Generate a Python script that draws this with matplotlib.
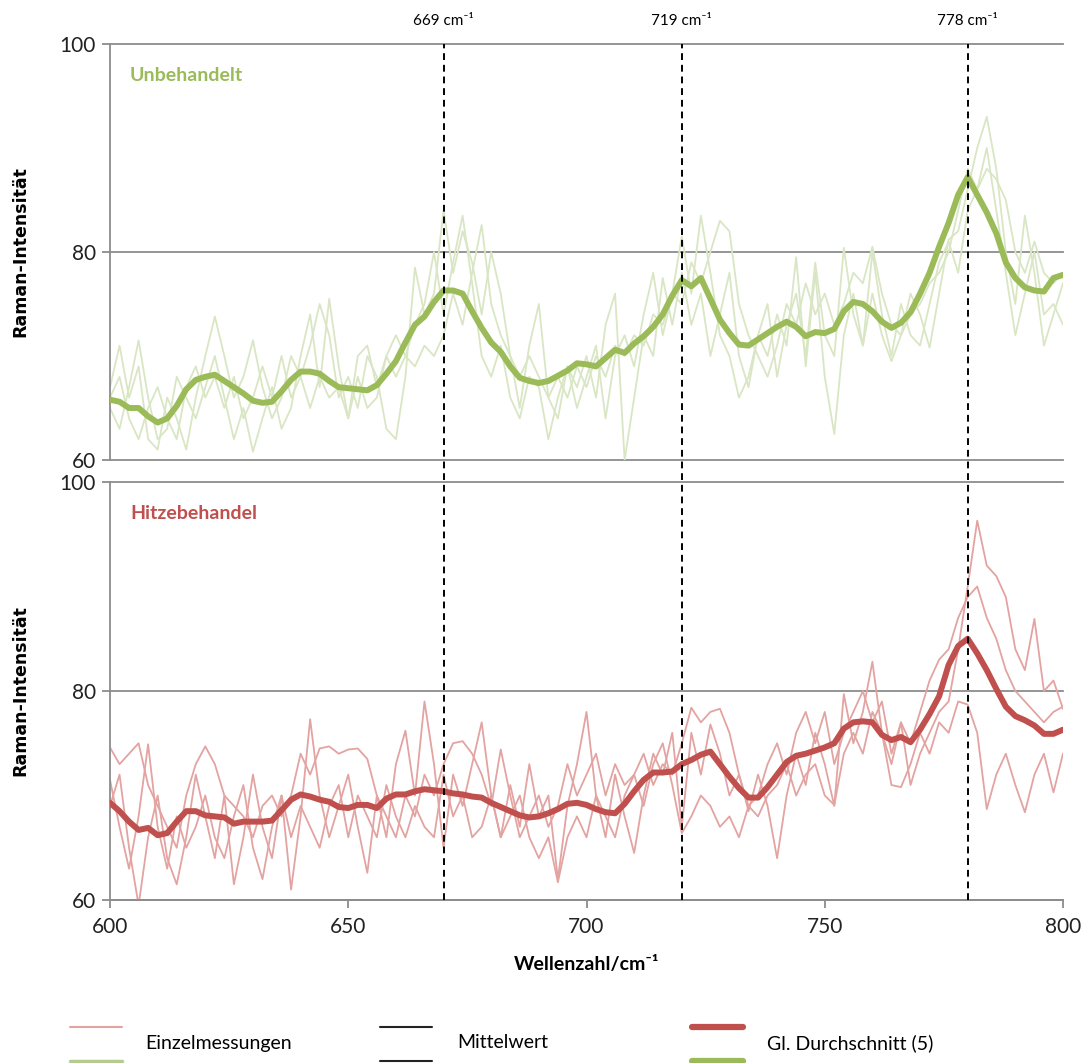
import numpy as np
import matplotlib.pyplot as plt
from matplotlib.lines import Line2D

plt.rcParams['font.family'] = ['Lato', 'DejaVu Sans']

# Wellenzahl-Raster (cm^-1)
wellenzahl = np.arange(600, 801, 2)

# --- Unbehandelt: Einzelmessungen + gleitender Durchschnitt
unbeh_1 = [67, 71, 66, 69, 62, 61, 66, 64, 61, 66,
           70, 73.8, 70, 66, 68, 71.5, 67, 64, 66, 70,
           68, 71, 75, 72, 66, 68, 65, 70, 68, 63,
           62, 68, 78.5, 74, 76, 84, 78, 82, 79, 74,
           80, 76, 70, 65, 71, 75, 66, 64, 69, 67,
           70, 66, 73, 76, 60, 66, 72, 70, 77.5, 73,
           78, 73, 76, 70, 74, 78, 70, 67, 72, 70,
           74, 71, 79.5, 69, 78, 68, 62.5, 72, 76, 71,
           80, 74, 70, 75, 72, 71, 75, 79, 81, 78,
           84, 86, 90, 84, 78, 72, 76, 80, 74, 75,
           73]
unbeh_2 = [65, 63, 67, 71.5, 66, 62, 63, 68, 66, 64,
           67, 70, 66, 62, 65, 60.8, 64, 67, 63, 65,
           70, 74, 67, 75.5, 69, 64, 70, 71, 67, 70,
           72, 70, 73, 75, 80, 74, 79, 83.5, 77, 70,
           68, 71, 66, 64, 68, 67, 62, 66, 69, 65,
           68, 71, 64, 70, 72, 69, 74, 78, 72, 76,
           81.5, 76, 83.5, 78, 72, 70, 66, 68, 72, 75,
           68, 73, 76, 70, 79, 72, 70, 80.4, 74, 71,
           76, 72, 69.5, 72, 76, 74, 70.8, 76, 81.2, 82,
           86, 90, 93, 88, 80, 75, 83.5, 78, 71, 74,
           77]
unbeh_3 = [66, 68, 64, 62, 65, 67, 64, 62, 67, 69,
           66, 68, 65, 68, 64, 66, 69, 66, 70, 66,
           68, 65, 68, 66, 67, 64, 68, 65, 66, 70,
           68, 70, 69, 71, 70, 72, 76, 73, 78, 82.6,
           75, 72, 70, 68, 70, 68, 66, 68, 66, 69,
           67, 70, 68, 71, 70, 72, 71, 74, 73, 76,
           75, 79, 77, 80, 83, 82, 75, 72, 70, 68,
           71, 75, 73, 77, 74, 76, 73, 75, 78, 77,
           80.5, 76, 73, 72, 74, 75, 77, 78, 80, 84,
           88, 86, 88, 87, 85, 80, 78, 81, 78, 77,
           78]
unbeh_gl = [65.8, 65.6, 65.0, 65.0, 64.2, 63.6, 64.0, 65.2, 66.8, 67.7,
            68.0, 68.2, 67.6, 67.0, 66.4, 65.7, 65.5, 65.6, 66.6, 67.7,
            68.5, 68.5, 68.3, 67.6, 67.0, 66.9, 66.8, 66.7, 67.2, 68.3,
            69.5, 71.3, 73.0, 73.8, 75.2, 76.3, 76.3, 76.0, 74.3, 72.7,
            71.3, 70.4, 69.0, 67.9, 67.6, 67.4, 67.6, 68.1, 68.6, 69.3,
            69.2, 69.0, 69.8, 70.6, 70.3, 71.2, 71.9, 72.8, 74.0, 75.8,
            77.3, 76.7, 77.5, 75.5, 73.5, 72.2, 71.1, 71.0, 71.6, 72.2,
            72.8, 73.3, 72.8, 71.9, 72.3, 72.2, 72.6, 74.3, 75.2, 75.0,
            74.3, 73.3, 72.7, 73.2, 74.2, 76.0, 78.0, 80.5, 82.8, 85.5,
            87.2, 85.5, 83.8, 81.8, 79.0, 77.5, 76.6, 76.3, 76.2, 77.5,
            77.8]

# --- Hitzebehandelt
hitze_1 = [69, 72, 65, 59.5, 66, 70, 64, 61.5, 66, 72,
           68, 64, 70, 61.5, 66, 72, 67, 64, 70, 61,
           68, 77.3, 70, 66, 69, 72, 67, 62.6, 70, 66,
           73, 76.2, 70, 79, 73, 65, 72, 69, 73, 77,
           70, 66, 71, 67, 73, 68, 70, 62, 69, 73,
           78, 70, 66, 72, 68, 64.5, 70, 74, 72, 76,
           67, 76, 72, 76.8, 74, 70, 72, 68.5, 72, 69,
           64, 70, 74, 71, 76, 73, 69, 79.7, 75, 78,
           82.8, 76, 73, 77, 71, 74, 76, 78, 79, 84,
           90, 96.3, 92, 91, 89, 84, 82, 86.9, 80, 81,
           78.3]
hitze_2 = [74.6, 73, 74, 75, 71, 69, 67, 65, 70, 73,
           74.7, 73, 70, 69, 68, 66, 69, 70, 68, 70,
           74, 72, 74.5, 74.7, 74, 74.4, 74.5, 73.5, 70, 68,
           66, 70, 68, 72, 70, 73, 75, 75.2, 74, 72,
           69, 74.4, 70, 66, 68, 70, 67, 69, 73, 70,
           72, 74, 70, 73, 71, 72, 74, 71, 73, 72,
           75, 78.4, 77, 78, 78.3, 76, 72, 69, 70, 73,
           75, 72, 76, 78, 75, 78, 73, 76, 78, 80,
           77, 79, 74, 77, 75, 78, 81, 83, 84, 87,
           89, 90, 87, 85, 82, 80, 79, 78, 77, 78,
           78.5]
hitze_3 = [71.5, 67, 63, 68, 74.9, 67, 63, 68, 65, 67,
           70, 66, 64, 68, 71, 65, 62, 67, 70, 66,
           69, 67, 65, 69, 71, 66, 70, 68, 66, 71,
           68, 66, 69, 67, 66, 72, 68, 70, 66, 67,
           70, 66, 68, 70, 66, 64, 66, 61.7, 66, 68,
           66, 70, 68, 66, 70, 72, 69, 73, 75, 71,
           66.4, 68, 70, 69, 67, 68, 66, 69, 68, 70,
           71, 73, 70, 72, 73, 70, 69.1, 74, 76, 74,
           78, 76, 71, 70.8, 73, 76, 74, 77, 76, 79,
           78.7, 76, 68.7, 72, 74, 71, 68.4, 72, 74, 70.3,
           74]
hitze_gl = [69.3, 68.5, 67.5, 66.7, 66.9, 66.2, 66.4, 67.5, 68.5, 68.5,
            68.1, 68.0, 67.9, 67.3, 67.5, 67.5, 67.5, 67.6, 68.6, 69.6,
            70.1, 69.9, 69.6, 69.4, 68.9, 68.8, 69.1, 69.1, 68.8, 69.7,
            70.1, 70.1, 70.4, 70.6, 70.5, 70.4, 70.2, 70.1, 69.9, 69.8,
            69.3, 68.9, 68.5, 68.1, 67.9, 68.0, 68.3, 68.7, 69.2, 69.3,
            69.1, 68.7, 68.4, 68.3, 69.2, 70.4, 71.5, 72.2, 72.2, 72.3,
            73.0, 73.4, 73.9, 74.2, 73.0, 71.8, 70.7, 69.8, 69.8, 70.8,
            72.0, 73.2, 73.8, 74.0, 74.3, 74.6, 75.0, 76.4, 77.0, 77.1,
            77.0, 75.8, 75.3, 75.6, 75.1, 76.3, 77.8, 79.5, 82.5, 84.3,
            85.0, 83.6, 82.0, 80.2, 78.5, 77.6, 77.2, 76.7, 75.9, 75.9,
            76.3]

# Banden
banden_pos = [670, 720, 780]
banden_text = ['669 cm⁻¹', '719 cm⁻¹', '778 cm⁻¹']

gruen, gruen_hell = '#9bbb59', '#d9e6c4'
rot, rot_hell = '#c0504d', '#e3a3a1'
grau = '#8c8c8c'

W, H = 1088, 1063
fig = plt.figure(figsize=(W / 100, H / 100), dpi=100)

left, right = 110 / W, 1063 / W
ax1 = fig.add_axes([left, 1 - 460 / H, right - left, 416 / H])
ax2 = fig.add_axes([left, 1 - 900 / H, right - left, 418 / H])

panels = [
    (ax1, [unbeh_1, unbeh_2, unbeh_3], unbeh_gl, gruen, gruen_hell, 'Unbehandelt'),
    (ax2, [hitze_1, hitze_2, hitze_3], hitze_gl, rot, rot_hell, 'Hitzebehandel'),
]

for ax, einzeln, gl, farbe, farbe_hell, titel in panels:
    for reihe in einzeln:
        ax.plot(wellenzahl, reihe, color=farbe_hell, lw=1.3, zorder=2)
    ax.plot(wellenzahl, gl, color=farbe, lw=4.3, zorder=3,
            solid_capstyle='round', solid_joinstyle='round')
    ax.set_xlim(600, 800)
    ax.set_ylim(60, 100)
    ax.set_yticks([60, 80, 100])
    for y in [60, 80, 100]:
        ax.axhline(y, color=grau, lw=1.3, zorder=1, clip_on=False)
    for s in ['top', 'right', 'bottom']:
        ax.spines[s].set_visible(False)
    ax.spines['left'].set_color(grau)
    ax.spines['left'].set_linewidth(1.3)
    ax.tick_params(axis='y', direction='out', length=6, width=1.3, color=grau,
                   labelsize=15, labelcolor='#222222', pad=4)
    ax.set_ylabel('Raman-Intensität', fontsize=12.5, fontweight='bold',
                  family=['DejaVu Sans'], labelpad=22)
    ax.text(0.021, 0.925, titel, transform=ax.transAxes, color=farbe,
            fontsize=14, fontweight='bold', va='center', ha='left')
    ax.patch.set_alpha(0)

ax1.tick_params(axis='x', bottom=False, labelbottom=False)
ax2.spines['bottom'].set_visible(True)
ax2.spines['bottom'].set_color(grau)
ax2.spines['bottom'].set_linewidth(1.3)
ax2.set_xticks([600, 650, 700, 750, 800])
ax2.tick_params(axis='x', direction='out', length=6, width=1.3, color=grau,
                labelsize=15, labelcolor='#222222', pad=6)
ax2.set_xlabel('Wellenzahl/cm⁻¹', fontsize=14, fontweight='bold', labelpad=14)

# gestrichelte Bandenlinien ueber beide Panels
ax_o = fig.add_axes([left, 1 - 900 / H, right - left, 856 / H])
ax_o.set_xlim(600, 800)
ax_o.set_ylim(0, 1)
ax_o.axis('off')
for x, t in zip(banden_pos, banden_text):
    ax_o.axvline(x, color='black', lw=1.4, ls=(0, (3.5, 2.5)), zorder=5)
    ax_o.text(x, 1.027, t, ha='center', va='center', fontsize=11)

# Legende (wie Excel: zwei Reihen Symbole, Text dazwischen)
def handle(x0, x1, y, farbe, lw):
    fig.add_artist(Line2D([x0 / W, x1 / W], [1 - y / H, 1 - y / H],
                          color=farbe, lw=lw, solid_capstyle='round'))

handle(70, 122, 1027, rot_hell, 1.5)
handle(70, 122, 1061, '#b5cc8e', 2.5)
handle(380, 432, 1027, '#222222', 1.5)
handle(380, 432, 1061, '#222222', 1.5)
handle(692, 743, 1027, rot, 4.5)
handle(692, 743, 1061, gruen, 4.5)
fig.text(145 / W, 1 - 1043 / H, 'Einzelmessungen', fontsize=14, va='center')
fig.text(457 / W, 1 - 1043 / H, 'Mittelwert', fontsize=14, va='center')
fig.text(767 / W, 1 - 1043 / H, 'Gl. Durchschnitt (5)', fontsize=14, va='center')

plt.savefig('out.png', dpi=100)
